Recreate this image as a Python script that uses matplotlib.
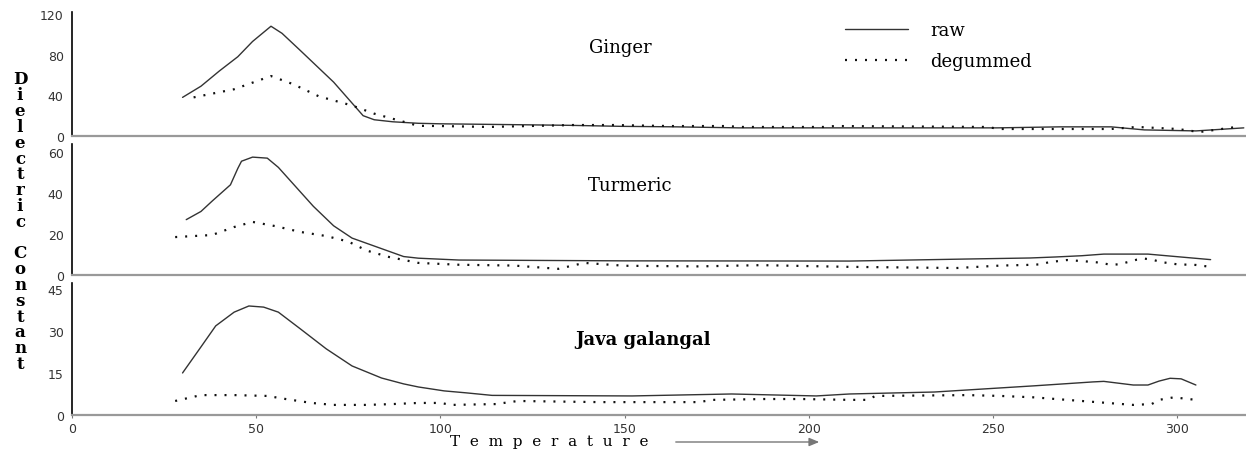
import matplotlib
matplotlib.use("Agg")
import matplotlib.pyplot as plt
from matplotlib.lines import Line2D

# ---- data (temperature vs dielectric constant) ----
ginger_raw_t = [30, 35, 40, 45, 49, 54, 57, 62, 71, 79, 82, 87, 94, 100, 112, 135, 149, 164, 181, 211,
                251, 268, 282, 291, 305, 318]
ginger_raw_e = [38, 49, 64, 78, 93, 108, 101, 84, 53, 20, 16, 14, 12.5, 12, 11.5, 10.5, 9.5, 9, 8, 8,
                8, 9, 9, 6, 5, 8]
ginger_deg_t = [33, 44, 54, 60, 67, 76, 82, 89, 94, 100, 113, 136, 147, 162, 177, 182, 204, 207, 248, 252,
                282, 289, 300, 306, 310, 316]
ginger_deg_e = [38, 46, 59, 51, 39, 30, 22, 15, 10, 9.8, 8.9, 10.8, 10.8, 9.8, 9.8, 8.9, 8.9, 9.8, 8.9, 6.9,
                6.9, 8.9, 6.9, 3.9, 5.9, 8.9]

turmeric_raw_t = [31, 35, 38, 43, 45, 46, 49, 53, 56, 60, 65.5, 71, 76, 83, 90, 94, 105, 150, 211, 224,
                  243, 260, 267, 274, 280, 292, 297, 309]
turmeric_raw_e = [27, 31, 36, 44, 52, 55.5, 57.5, 57, 52.5, 44.5, 33.5, 24, 18, 13.5, 9, 8.2, 7.3, 6.9, 6.8, 7.2,
                  7.8, 8.3, 8.8, 9.4, 10.2, 10.2, 9.4, 7.5]
turmeric_deg_t = [28, 38, 44, 49, 55, 62, 69, 75, 80, 86, 94, 105, 120, 132, 139, 150, 170, 187, 210, 240,
                  248, 252, 259, 263, 265, 270, 274, 278, 282, 284, 287, 289, 291, 293, 296, 300, 305, 308]
turmeric_deg_e = [18.5, 19.5, 23.4, 25.9, 23.9, 21, 19, 16.3, 11.9, 8.8, 5.9, 5, 4.6, 3, 5.9, 4.5, 4.2, 4.8, 4, 3.4,
                  4.2, 4.6, 4.9, 5.2, 6.2, 7.3, 6.8, 6.2, 5, 5.2, 6.5, 7.5, 8, 7.5, 6.2, 5.2, 4.9, 4.2]

java_raw_t = [30, 35, 39, 44, 48, 52, 56, 62, 69, 76, 84, 90, 94, 101, 107, 114, 152, 179, 202, 211,
              234, 261, 277, 280, 288, 292, 295, 298, 301, 305]
java_raw_e = [15, 24.3, 31.8, 36.7, 38.9, 38.5, 36.7, 30.7, 23.6, 17.5, 13.2, 11.1, 10, 8.6, 7.9, 7, 6.8, 7.5, 6.8, 7.5,
              8.2, 10.4, 11.8, 12, 10.7, 10.7, 12.1, 13.1, 12.9, 10.7]
java_deg_t = [28, 35, 44, 53, 58, 65, 71, 80, 87, 94, 100, 103, 115, 121, 143, 170, 174, 188, 198, 211,
              216, 218, 243, 252, 261, 274, 288, 293, 295, 299, 305]
java_deg_e = [5, 7.1, 7.1, 6.8, 5.7, 4.3, 3.6, 3.6, 3.9, 4.3, 4.3, 3.6, 3.9, 5, 4.6, 4.6, 5.4, 5.7, 5.7, 5.4,
              5.4, 6.8, 7.1, 6.8, 6.3, 5, 3.6, 3.9, 5.4, 6.3, 5.4]

panel_names = ["Ginger", "Turmeric", "Java galangal"]
panel_yticks = [[0, 40, 80, 120], [0, 20, 40, 60], [0, 15, 30, 45]]
x_ticks = [0, 50, 100, 150, 200, 250, 300]
ylabel_text = "Dielectric Constant"
xlabel_text = "Temperature"

RAW_KW = dict(color="#333333", lw=1.0, solid_capstyle="round")
DEG_KW = dict(color="#111111", lw=1.6, linestyle=(0, (0.9, 3.6)), dash_capstyle="butt")
SERIF = "DejaVu Serif"

W, H = 1246, 452
fig = plt.figure(figsize=(W / 100, H / 100), dpi=100)


def fig_y(py):
    return 1 - py / H


# axes boxes in pixels: (top, bottom, ymax)
boxes = [(13, 137, 122), (145, 276, 63.9), (284, 416, 47.1)]
series = [
    (ginger_raw_t, ginger_raw_e, ginger_deg_t, ginger_deg_e),
    (turmeric_raw_t, turmeric_raw_e, turmeric_deg_t, turmeric_deg_e),
    (java_raw_t, java_raw_e, java_deg_t, java_deg_e),
]
title_pos = [(620, 48), (630, 186), (643, 340)]

axes = []
for i, ((top, bot, ymax), (rt, re, dt, de)) in enumerate(zip(boxes, series)):
    ax = fig.add_axes([72 / W, fig_y(bot), 1 - 72 / W, (bot - top) / H])
    ax.plot(rt, re, **RAW_KW)
    ax.plot(dt, de, **DEG_KW)
    ax.set_xlim(0, 318.6)
    ax.set_ylim(0, ymax)
    ax.set_yticks(panel_yticks[i])
    ax.tick_params(axis="y", length=0, pad=6, labelsize=9, labelcolor="#333333")
    for s in ("top", "right"):
        ax.spines[s].set_visible(False)
    ax.spines["left"].set_color("black")
    ax.spines["left"].set_linewidth(1.2)
    ax.spines["bottom"].set_color("#999999")
    ax.spines["bottom"].set_linewidth(1.6)
    if i < 2:
        ax.set_xticks([])
    else:
        ax.set_xticks(x_ticks)
        ax.tick_params(axis="x", length=2, width=0.8, color="#777777", pad=3,
                       labelsize=9, labelcolor="#333333")
    fig.text(title_pos[i][0] / W, fig_y(title_pos[i][1]), panel_names[i], ha="center", va="center",
             family=SERIF, fontsize=13, fontweight="bold" if i == 2 else "normal")
    axes.append(ax)

# legend in the top panel
handles = [Line2D([], [], **RAW_KW), Line2D([], [], **DEG_KW)]
axes[0].legend(handles, ["raw", "degummed"], loc="upper left", bbox_to_anchor=(845 / W, fig_y(22)),
               bbox_transform=fig.transFigure, frameon=False, borderpad=0, borderaxespad=0,
               handlelength=3.5, handletextpad=1.2, labelspacing=0.72,
               prop=dict(family=SERIF, size=13))

# stacked y label letters
letters = list(ylabel_text)
for k, ch in enumerate(letters):
    if ch == " ":
        continue
    fig.text(20 / W, fig_y(80 + 15.8 * k), ch, ha="center", va="center",
             family=SERIF, fontweight="bold", fontsize=12)

# spaced x label with arrow
fig.text(549 / W, fig_y(442), "  ".join(xlabel_text), ha="center", va="center",
         family=SERIF, fontsize=11)
fig.add_artist(matplotlib.patches.FancyArrowPatch(
    (673 / W, fig_y(443)), (822 / W, fig_y(443)), transform=fig.transFigure,
    arrowstyle="-|>,head_length=6,head_width=2.5", color="#777777", lw=1))

fig.savefig("out.png", dpi=100)
